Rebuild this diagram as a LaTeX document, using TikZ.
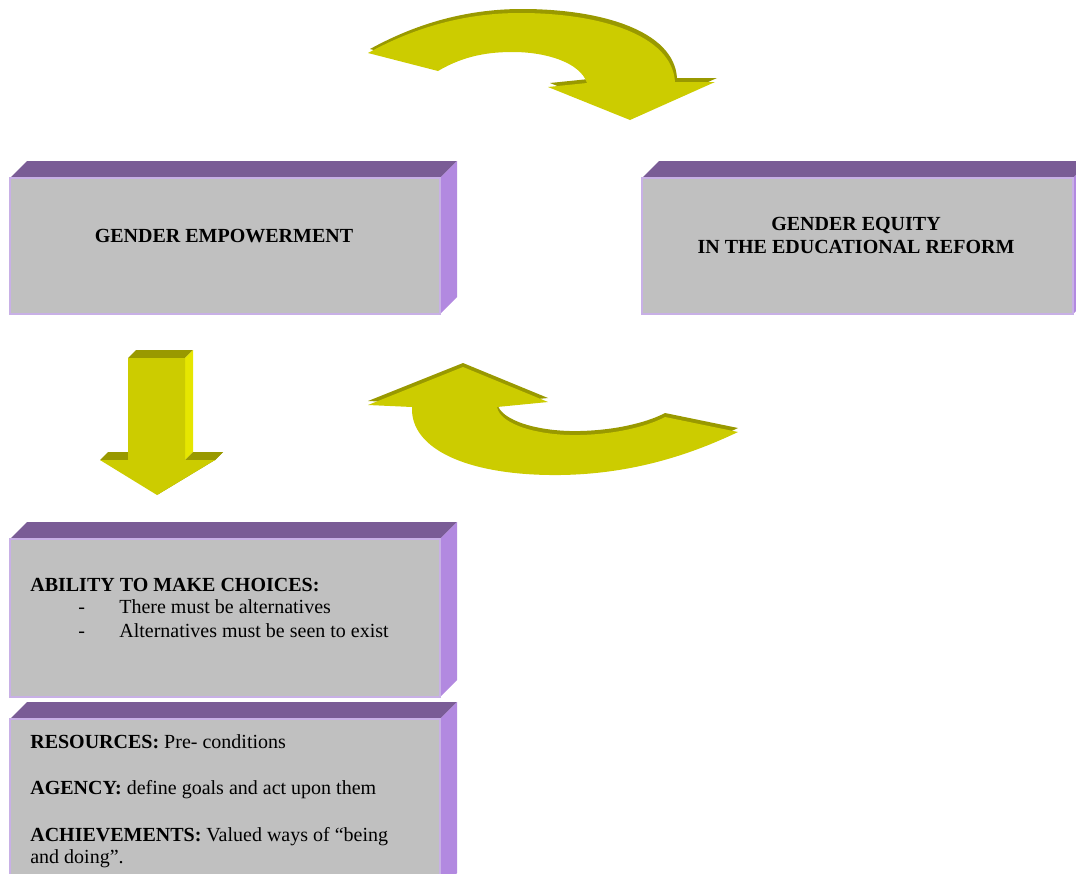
\documentclass[tikz,border=0pt]{standalone}
\usepackage{fontspec}
\setmainfont{Liberation Serif}
\usepackage{tikz}
\definecolor{slab-top}{RGB}{122,92,150}
\definecolor{slab-side}{RGB}{178,137,224}
\definecolor{slab-front}{RGB}{192,192,192}
\definecolor{slab-line}{RGB}{200,176,230}
\definecolor{olive-main}{RGB}{204,204,0}
\definecolor{olive-dark}{RGB}{153,153,0}
\definecolor{olive-light}{RGB}{230,230,0}
\newcommand*\txt{\fontsize{12pt}{14pt}\selectfont}
\newcommand*\dashitem{\hspace*{28.8pt}\makebox[24.6pt][l]{-}}
\newcommand*\slab[4]{%
  \fill[topface] (#1,#2) -- (#1+17,#2-17) -- (#3+17,#2-17) -- (#3,#2) -- cycle;
  \fill[sideface] (#3,#2) -- (#3+17,#2-17) -- (#3+17,#4-17) -- (#3,#4) -- cycle;
  \filldraw[frontface] (#1,#2) rectangle (#3,#4);}

\begin{document}
\begin{tikzpicture}[x=0.6pt,y=-0.6pt,
        topface/.style={fill=slab-top},
        sideface/.style={fill=slab-side},
        frontface/.style={fill=slab-front,draw=slab-line,line width=1pt},
        title/.style={anchor=base,inner sep=0pt,font=\txt\bfseries},
        body/.style={anchor=base west,inner sep=0pt,font=\txt}]
        \useasboundingbox (0,0) rectangle (1076,873);
        \clip (0,0) rectangle (1076,873);

        \slab{10}{178}{440}{314}
        \slab{642}{178}{1073}{314}
        \slab{10}{539}{440}{697}
        \slab{10}{719}{440}{890}

        \node[title] (empower) at (224,242) {GENDER EMPOWERMENT};
        \node[title] (equity) at (856,230) {GENDER EQUITY};
        \node[title] (reform) at (856,253) {IN THE EDUCATIONAL REFORM};

        \node[body] (choices) at (30,591) {\textbf{ABILITY TO MAKE CHOICES:}};
        \node[body] (altone) at (30,613) {\dashitem There must be alternatives};
        \node[body] (alttwo) at (30,637) {\dashitem Alternatives must be seen to exist};

        \node[body] (resources) at (30,748) {\textbf{RESOURCES:} Pre- conditions};
        \node[body] (agency) at (30,794) {\textbf{AGENCY:} define goals and act upon them};
        \node[body] (achieve) at (30,841) {\textbf{ACHIEVEMENTS:} Valued ways of ``being};
        \node[body] (doing) at (30,863) {and doing''.};

        \foreach \col/\dx/\dy in {olive-dark/2/-4,olive-main/0/0}
        \fill[\col,shift={(\dx,\dy)}] (368,53) .. controls (410,30) and (460,13) .. (520,13)
                .. controls (600,13) and (672,35) .. (675,82) -- (715,82) -- (630,120) -- (548,87) -- (587,83)
                .. controls (580,62) and (545,52) .. (513,52) .. controls (490,52) and (465,55) .. (438,71) -- cycle;

        \foreach \col/\dx/\dy in {olive-dark/0/-4,olive-main/0/0}
        \fill[\col,shift={(\dx,\dy)}] (412,407) .. controls (410,450) and (470,476) .. (560,475)
                .. controls (640,474) and (700,450) .. (738,432) -- (665,417)
                .. controls (650,425) and (620,434) .. (580,435) .. controls (540,436) and (500,425) .. (497,407)
                -- (548,402) -- (463,367) -- (368,405) -- cycle;

        \fill[olive-dark] (128,358) -- (136,350) -- (193,350) -- (185,358) -- cycle;
        \fill[olive-light] (185,358) -- (193,350) -- (193,452) -- (185,460) -- cycle;
        \fill[olive-dark] (100,460) -- (108,452) -- (136,452) -- (128,460) -- cycle;
        \fill[olive-dark] (185,460) -- (193,452) -- (223,452) -- (215,460) -- cycle;
        \fill[olive-dark] (215,460) -- (223,452) -- (165,487) -- (157,495) -- cycle;
        \fill[olive-main] (128,358) -- (185,358) -- (185,460) -- (215,460) -- (157,495) -- (100,460) -- (128,460) -- cycle;
\end{tikzpicture}
\end{document}
